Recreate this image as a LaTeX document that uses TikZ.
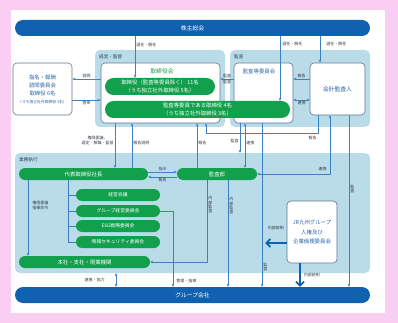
\documentclass[tikz,border=0pt]{standalone}
\usepackage{fontspec}
\setmainfont{Noto Sans CJK JP}
\usetikzlibrary{arrows.meta}
\definecolor{pinkbg}{RGB}{250,205,243}
\definecolor{barblue}{RGB}{16,98,176}
\definecolor{regblue}{RGB}{185,220,232}
\definecolor{jrgreen}{RGB}{18,160,76}
\definecolor{lineblue}{RGB}{60,130,195}
\definecolor{boxedge}{RGB}{95,120,150}
\definecolor{txtblue}{RGB}{40,100,170}
\definecolor{labgray}{RGB}{55,60,70}
\definecolor{regtxt}{RGB}{45,65,95}
\newcommand\fbig{\fontsize{5.8}{8}\selectfont}
\newcommand\fmid{\fontsize{5.4}{8}\selectfont}
\newcommand\fcom{\fontsize{4.8}{6}\selectfont}
\newcommand\ftiny{\fontsize{3.8}{5}\selectfont}
\newcommand\flab{\fontsize{4}{5}\selectfont}
\newcommand\fvlab{\fontsize{4}{4.4}\selectfont}
\newcommand\freg{\fontsize{4.6}{5}\selectfont}
\tikzset{
 bar/.style={fill=barblue, text=white, rounded corners=8pt, minimum height=16pt, inner sep=0pt, font=\fbig},
 region/.style={fill=regblue, rounded corners=5pt, inner sep=0pt},
 wbox/.style={fill=white, draw=boxedge, line width=0.6pt, rounded corners=4pt, inner sep=0pt, text=txtblue},
 pill/.style={fill=jrgreen, text=white, inner sep=0pt, font=\fmid},
 conn/.style={draw=lineblue, line width=0.6pt, -{Stealth[length=3pt,width=2.6pt]}},
 both/.style={draw=lineblue, line width=0.6pt, {Stealth[length=3pt,width=2.6pt]}-{Stealth[length=3pt,width=2.6pt]}},
 plain/.style={draw=lineblue, line width=0.6pt},
 fat/.style={draw=barblue, line width=1.8pt, -{Straight Barb[length=4pt,width=8pt]}},
 lab/.style={font=\flab, text=labgray, inner sep=1pt},
 vlab/.style={font=\fvlab, text=labgray, inner sep=1pt, align=center},
 reglab/.style={font=\freg, text=regtxt, anchor=west, inner sep=0pt},
}
\begin{document}
\begin{tikzpicture}[x=1pt,y=-1pt]
\useasboundingbox (0,0) rectangle (398,323);
\fill[pinkbg] (0,0) rectangle (398,323);
\fill[white] (11,10) rectangle (385,313);
\foreach \v in {28,68,115,116,132,135,173,197,206,207,228,240,245,262,265,280,300,318,320,330,349}
  \coordinate (X\v) at (\v,0);
\foreach \v in {79,100,133,172,177,243}
  \coordinate (Y\v) at (0,\v);
% regions
\node[region, minimum width=130pt, minimum height=77pt] (regKK) at (160,88.5) {};
\node[region, minimum width=140pt, minimum height=77pt] (regKS) at (300,88.5) {};
\node[region, minimum width=355pt, minimum height=120pt] (regGS) at (192.5,213) {};
\node[reglab] (lKK) at (99,57) {経営・監督};
\node[reglab] (lKS) at (234,57) {監査};
\node[reglab] (lGS) at (19,160) {業務執行};
% bars
\node[bar, minimum width=355pt] (sh) at (192.5,28) {株主総会};
\node[bar, minimum width=355pt] (grp) at (192.5,295) {グループ会社};
% boxes
\node[wbox, minimum width=119pt, minimum height=60pt] (brd) at (160.5,93) {};
\node[font=\fbig, text=jrgreen, inner sep=0pt] (brdl) at (162,71) {取締役会};
\node[wbox, minimum width=59pt, minimum height=60pt] (ac) at (263.5,93) {};
\node[font=\fmid, text=txtblue, inner sep=0pt] (acl) at (259,71) {監査等委員会};
\node[wbox, minimum width=55pt, minimum height=52pt, font=\fbig] (aud) at (337.5,89) {会計監査人};
\node[wbox, minimum width=59pt, minimum height=52pt, align=center, font=\fmid] (nom) at (42.5,89) {指名・報酬\\諮問委員会\\取締役 6名\\{\ftiny（うち独立社外取締役 3名）}};
% pills
\node[pill, rounded corners=8.5pt, minimum width=110pt, minimum height=17pt, align=center] (p1) at (160,86.5) {取締役（監査等委員除く） 11名\\（うち独立社外取締役 5名）};
\node[pill, rounded corners=8.5pt, minimum width=185pt, minimum height=17pt, align=center] (p2) at (197.5,109.5) {監査等委員である取締役 4名\\（うち独立社外取締役 3名）};
\node[pill, rounded corners=6pt, minimum width=129pt, minimum height=12pt] (pres) at (83.5,174) {代表取締役社長};
\node[pill, rounded corners=6pt, minimum width=80pt, minimum height=12pt] (iad) at (217,174) {監査部};
\node[pill, rounded corners=6pt, minimum width=84pt, minimum height=12pt, font=\fcom] (c1) at (118,195) {経営会議};
\node[pill, rounded corners=6pt, minimum width=84pt, minimum height=12pt, font=\fcom] (c2) at (118,211) {グループ経営委員会};
\node[pill, rounded corners=6pt, minimum width=84pt, minimum height=12pt, font=\fcom] (c3) at (118,226) {ESG戦略委員会};
\node[pill, rounded corners=6pt, minimum width=84pt, minimum height=12pt, font=\fcom] (c4) at (118,242) {情報セキュリティ委員会};
\node[pill, rounded corners=6pt, minimum width=131pt, minimum height=12pt] (hq) at (84.5,262) {本社・支社・現業機関};
\node[wbox, minimum width=50pt, minimum height=62pt, align=center, font=\fontsize{5.4}{9.5}\selectfont] (hr) at (312,232) {JR九州グループ\\人権及び\\企業倫理委員会};
% connectors: top
\draw[conn] (sh.south -| X135) -- (p1.north -| X135) node[pos=0.2, right, lab] {選任・解任};
\draw[conn] (sh.south -| X280) -- (p2.north -| X280) node[pos=0.12, right, lab, xshift=1pt] {選任・解任};
\draw[conn] (sh.south -| X320) -- (aud.north -| X320) node[pos=0.28, right, lab, xshift=5pt] {選任・解任};
\draw[conn] (brd.west |- Y79) -- (nom.east |- Y79) node[midway, above, lab] {諮問};
\draw[conn] (nom.east |- Y100) -- (brd.west |- Y100) node[midway, below, lab] {答申};
\draw[conn] (ac.west |- Y79) -- (brd.east |- Y79) node[midway, above, lab] {監査} node[midway, below, lab] {監督};
\draw[conn] (aud.west |- Y79) -- (ac.east |- Y79) node[midway, above, lab] {報告};
\draw[both] (ac.east |- Y100) -- (aud.west |- Y100) node[midway, below, lab] {連携};
% middle
\draw[conn] (brd.south -| X115) -- (pres.north -| X115) node[pos=0.38, left, lab, align=center] {権限委譲、\\選定・解職・監督};
\draw[conn] (pres.north -| X132) -- (brd.south -| X132) node[pos=0.55, right, lab] {報告説明};
\draw[conn] (iad.north -| X197) -- (brd.south -| X197) node[pos=0.55, right, lab] {報告};
\draw[conn] (aud.south -| X318) -- (X318 |- Y133) node[below left, lab, yshift=-2pt] {報告} -- (X206 |- Y133) -- (brd.south -| X206);
\draw[conn] (ac.south -| X240) -- (regGS.north -| X240) node[pos=0.6, left, lab] {監査};
\draw[both] (ac.south -| X245) -- (iad.north -| X245) node[pos=0.45, right, lab] {連携};
\draw[both] (iad.east) -- (X330 |- iad.east) node[above left, lab, yshift=2pt, xshift=-2pt] {連携} -- (aud.south -| X330);
\draw[conn] (aud.south -| X349) -- (grp.north -| X349) node[pos=0.43, right, vlab] {監\\査};
\draw[conn] (ac.south -| X262) -- (grp.north -| X262) node[pos=0.88, right, vlab] {監\\査};
% business execution
\draw[conn] (pres.east |- Y172) -- (iad.west |- Y172) node[midway, above, lab] {指示};
\draw[conn] (iad.west |- Y177) -- (pres.east |- Y177) node[midway, below, lab] {報告};
\draw[conn] (iad.south -| X207) -- node[pos=0.3, right, vlab] {内\\部\\監\\査} (X207 |- hq.east) -- (hq.east);
\draw[conn] (iad.south -| X228) -- (grp.north -| X228) node[pos=0.24, right, vlab] {内\\部\\監\\査};
\draw[plain] (pres.south -| X68) -- (X68 |- c4.west) -- (c4.west);
\draw[plain] (X68 |- c1.west) -- (c1.west);
\draw[plain] (X68 |- c2.west) -- (c2.west);
\draw[plain] (X68 |- c3.west) -- (c3.west);
\draw[conn] (pres.south -| X28) -- (hq.north -| X28) node[pos=0.33, right, lab, align=center, xshift=3pt] {権限委譲\\指揮命令};
\draw[conn] (c2.east) -- (X173 |- c2.east) -- (grp.north -| X173) node[pos=0.92, right, lab, xshift=2pt] {管理・指導};
\draw[both] (regGS.south -| X116) -- (grp.north -| X116) node[midway, left, lab, xshift=-10pt] {連携・協力};
\draw[fat] (hr.west |- Y243) -- (X265 |- Y243) node[midway, above, lab, yshift=11pt] {内部統制};
\draw[fat] (hr.south -| X300) -- (grp.north -| X300) node[midway, right, lab, xshift=2pt] {内部統制};
\end{tikzpicture}
\end{document}
